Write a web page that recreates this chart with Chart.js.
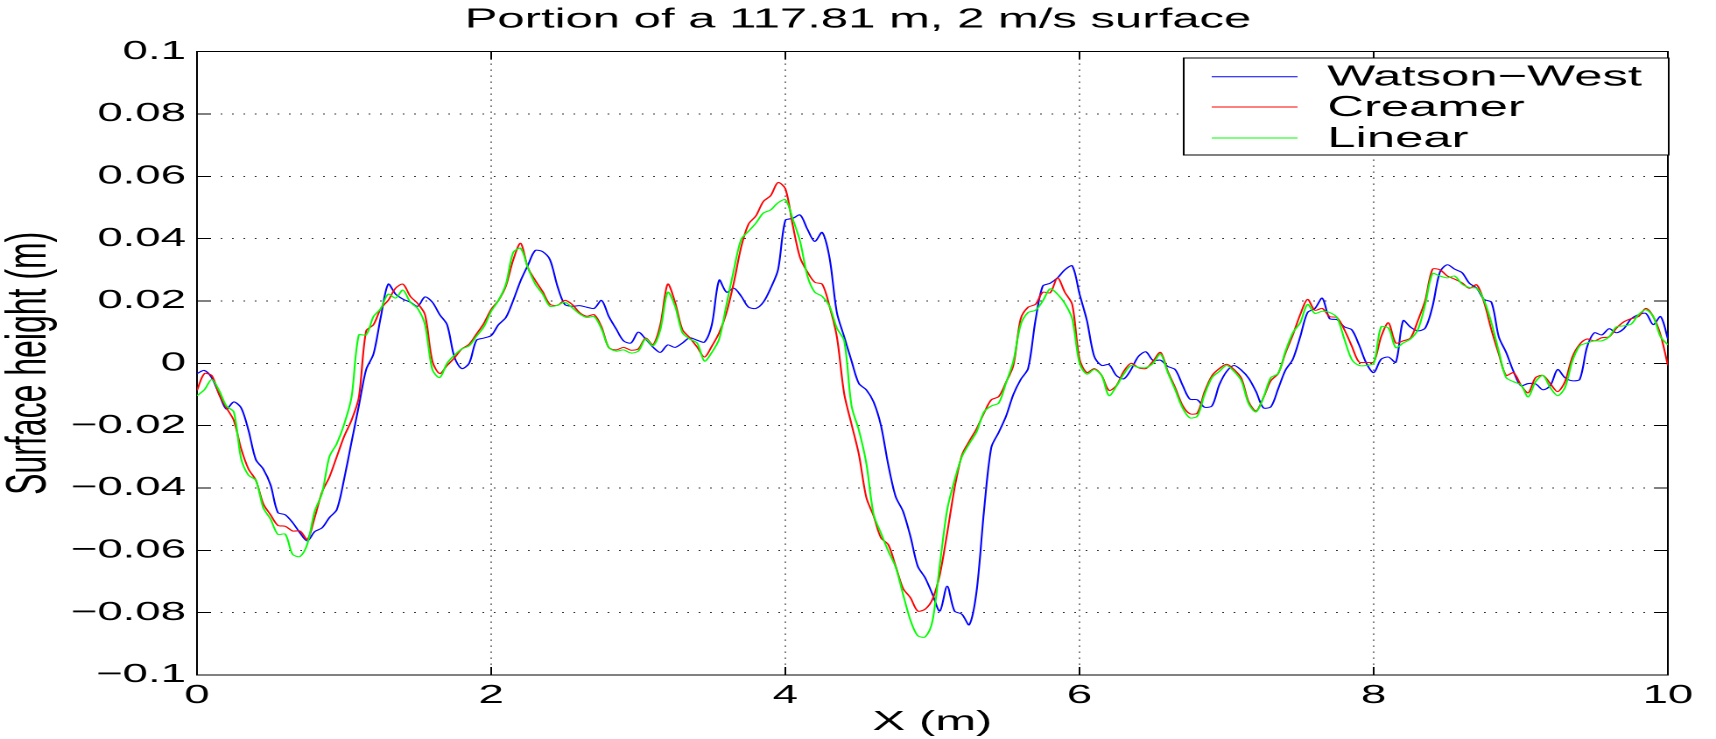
<!DOCTYPE html>
<html>
<head>
<meta charset="utf-8">
<title>Portion of a 117.81 m, 2 m/s surface</title>
<script src="https://cdn.jsdelivr.net/npm/chart.js@4.4.1/dist/chart.umd.min.js"></script>
<style>
  html, body { margin: 0; padding: 0; background: #fff; overflow: hidden; }
  /* the original figure is stretched sideways, so the canvas is too */
  canvas#surf { display: block; width: 1716px !important; height: 739px !important; }
</style>
</head>
<body>
<canvas id="surf" width="980" height="739" style="width:1716px;height:739px"></canvas>
<script>
// sample positions along X (m), every 0.05 m
const xPos = Array.from({ length: 201 }, (_, i) => Math.round(i * 5) / 100);

const seriesNames = ['Watson−West', 'Creamer', 'Linear'];
const seriesColors = ['#0000ff', '#ff0000', '#00ff00'];

// surface heights (m)
const watsonWest = [
  -0.0033, -0.0023, -0.0046, -0.0098, -0.0147, -0.0124, -0.0143, -0.0215, -0.0309, -0.0339,
  -0.0390, -0.0479, -0.0486, -0.0511, -0.0544, -0.0570, -0.0540, -0.0528, -0.0495, -0.0470,
  -0.0372, -0.0254, -0.0137, -0.0020, 0.0030, 0.0150, 0.0254, 0.0222, 0.0206, 0.0196,
  0.0183, 0.0213, 0.0196, 0.0156, 0.0124, 0.0020, -0.0017, 0.0000, 0.0074, 0.0081,
  0.0089, 0.0124, 0.0147, 0.0202, 0.0265, 0.0315, 0.0362, 0.0358, 0.0332, 0.0248,
  0.0189, 0.0183, 0.0185, 0.0180, 0.0176, 0.0202, 0.0150, 0.0110, 0.0072, 0.0065,
  0.0100, 0.0078, 0.0052, 0.0035, 0.0059, 0.0051, 0.0065, 0.0082, 0.0074, 0.0068,
  0.0124, 0.0267, 0.0228, 0.0241, 0.0215, 0.0180, 0.0176, 0.0196, 0.0241, 0.0300,
  0.0459, 0.0465, 0.0476, 0.0430, 0.0391, 0.0420, 0.0339, 0.0163, 0.0085, 0.0007,
  -0.0065, -0.0085, -0.0124, -0.0200, -0.0327, -0.0428, -0.0475, -0.0555, -0.0651, -0.0688,
  -0.0741, -0.0795, -0.0715, -0.0795, -0.0805, -0.0839, -0.0731, -0.0475, -0.0270, -0.0222,
  -0.0170, -0.0100, -0.0052, -0.0017, 0.0137, 0.0248, 0.0257, 0.0274, 0.0300, 0.0313,
  0.0222, 0.0137, 0.0022, -0.0007, -0.0004, -0.0039, -0.0050, -0.0020, 0.0022, 0.0037,
  0.0009, 0.0010, -0.0010, -0.0020, -0.0070, -0.0115, -0.0117, -0.0141, -0.0137, -0.0069,
  -0.0026, -0.0007, -0.0022, -0.0048, -0.0091, -0.0143, -0.0140, -0.0082, -0.0022, 0.0013,
  0.0085, 0.0163, 0.0176, 0.0209, 0.0143, 0.0140, 0.0117, 0.0108, 0.0059, 0.0000,
  -0.0030, 0.0013, 0.0020, 0.0003, 0.0137, 0.0116, 0.0104, 0.0113, 0.0183, 0.0293,
  0.0316, 0.0302, 0.0291, 0.0257, 0.0241, 0.0205, 0.0196, 0.0085, 0.0035, -0.0026,
  -0.0072, -0.0065, -0.0066, -0.0085, -0.0072, -0.0020, -0.0046, -0.0056, -0.0052, 0.0052,
  0.0098, 0.0091, 0.0111, 0.0098, 0.0111, 0.0143, 0.0156, 0.0160, 0.0124, 0.0150,
  0.0078
];

const creamer = [
  -0.0087, -0.0033, -0.0039, -0.0100, -0.0143, -0.0183, -0.0274, -0.0339, -0.0375, -0.0450,
  -0.0486, -0.0520, -0.0523, -0.0538, -0.0538, -0.0565, -0.0495, -0.0413, -0.0365, -0.0300,
  -0.0235, -0.0183, -0.0110, 0.0104, 0.0124, 0.0176, 0.0202, 0.0241, 0.0254, 0.0215,
  0.0192, 0.0156, 0.0007, -0.0033, -0.0007, 0.0017, 0.0046, 0.0061, 0.0094, 0.0128,
  0.0173, 0.0202, 0.0248, 0.0332, 0.0385, 0.0306, 0.0266, 0.0230, 0.0189, 0.0186,
  0.0202, 0.0189, 0.0163, 0.0151, 0.0156, 0.0117, 0.0050, 0.0043, 0.0051, 0.0042,
  0.0046, 0.0081, 0.0059, 0.0124, 0.0254, 0.0196, 0.0108, 0.0082, 0.0052, 0.0020,
  0.0055, 0.0098, 0.0163, 0.0260, 0.0374, 0.0447, 0.0473, 0.0519, 0.0538, 0.0580,
  0.0560, 0.0443, 0.0339, 0.0293, 0.0260, 0.0254, 0.0183, 0.0085, -0.0098, -0.0196,
  -0.0293, -0.0430, -0.0490, -0.0560, -0.0582, -0.0651, -0.0722, -0.0752, -0.0795, -0.0789,
  -0.0757, -0.0678, -0.0545, -0.0401, -0.0295, -0.0250, -0.0210, -0.0160, -0.0117, -0.0107,
  -0.0061, -0.0007, 0.0143, 0.0180, 0.0189, 0.0228, 0.0226, 0.0274, 0.0228, 0.0189,
  0.0013, -0.0030, -0.0017, -0.0039, -0.0087, -0.0072, -0.0026, 0.0000, -0.0014, -0.0017,
  0.0007, 0.0035, -0.0026, -0.0078, -0.0135, -0.0162, -0.0160, -0.0091, -0.0040, -0.0017,
  -0.0003, -0.0020, -0.0048, -0.0124, -0.0153, -0.0110, -0.0056, -0.0033, 0.0033, 0.0091,
  0.0156, 0.0205, 0.0170, 0.0176, 0.0150, 0.0147, 0.0108, 0.0056, 0.0004, 0.0003,
  0.0004, 0.0085, 0.0130, 0.0065, 0.0072, 0.0081, 0.0137, 0.0202, 0.0302, 0.0300,
  0.0280, 0.0270, 0.0258, 0.0241, 0.0252, 0.0196, 0.0107, 0.0030, -0.0039, -0.0030,
  -0.0069, -0.0095, -0.0046, -0.0039, -0.0065, -0.0091, -0.0059, 0.0020, 0.0061, 0.0078,
  0.0072, 0.0082, 0.0085, 0.0113, 0.0133, 0.0143, 0.0150, 0.0176, 0.0150, 0.0091,
  -0.0007
];

const linear = [
  -0.0104, -0.0085, -0.0052, -0.0087, -0.0137, -0.0156, -0.0306, -0.0359, -0.0375, -0.0463,
  -0.0500, -0.0549, -0.0548, -0.0613, -0.0620, -0.0580, -0.0475, -0.0417, -0.0300, -0.0258,
  -0.0196, -0.0110, 0.0091, 0.0091, 0.0150, 0.0176, 0.0222, 0.0209, 0.0235, 0.0196,
  0.0176, 0.0124, -0.0020, -0.0046, 0.0000, 0.0026, 0.0046, 0.0056, 0.0087, 0.0117,
  0.0167, 0.0202, 0.0254, 0.0356, 0.0369, 0.0306, 0.0254, 0.0222, 0.0183, 0.0186,
  0.0196, 0.0179, 0.0159, 0.0147, 0.0150, 0.0110, 0.0050, 0.0039, 0.0043, 0.0033,
  0.0039, 0.0078, 0.0056, 0.0108, 0.0228, 0.0183, 0.0098, 0.0078, 0.0065, 0.0007,
  0.0035, 0.0078, 0.0189, 0.0300, 0.0398, 0.0424, 0.0450, 0.0482, 0.0492, 0.0515,
  0.0525, 0.0463, 0.0391, 0.0280, 0.0228, 0.0215, 0.0183, 0.0113, 0.0072, -0.0137,
  -0.0215, -0.0320, -0.0485, -0.0545, -0.0603, -0.0654, -0.0741, -0.0824, -0.0874, -0.0878,
  -0.0827, -0.0646, -0.0470, -0.0375, -0.0300, -0.0258, -0.0220, -0.0156, -0.0137, -0.0128,
  -0.0063, 0.0007, 0.0124, 0.0163, 0.0170, 0.0200, 0.0239, 0.0222, 0.0192, 0.0143,
  0.0000, -0.0035, -0.0020, -0.0039, -0.0104, -0.0074, -0.0035, -0.0007, -0.0013, -0.0014,
  0.0000, 0.0030, -0.0030, -0.0085, -0.0143, -0.0175, -0.0170, -0.0100, -0.0046, -0.0026,
  -0.0007, -0.0026, -0.0056, -0.0130, -0.0156, -0.0110, -0.0046, -0.0033, 0.0039, 0.0098,
  0.0130, 0.0189, 0.0160, 0.0167, 0.0163, 0.0147, 0.0078, 0.0013, -0.0007, -0.0007,
  0.0000, 0.0117, 0.0113, 0.0050, 0.0065, 0.0078, 0.0108, 0.0189, 0.0288, 0.0280,
  0.0274, 0.0280, 0.0254, 0.0243, 0.0241, 0.0202, 0.0130, 0.0039, -0.0046, -0.0059,
  -0.0069, -0.0108, -0.0059, -0.0039, -0.0078, -0.0104, -0.0078, 0.0007, 0.0056, 0.0065,
  0.0072, 0.0072, 0.0085, 0.0117, 0.0120, 0.0126, 0.0156, 0.0172, 0.0150, 0.0085,
  0.0059
];

const xTicks = [0, 2, 4, 6, 8, 10];
const xTickLabels = ['0', '2', '4', '6', '8', '10'];
const yTicks = [-0.1, -0.08, -0.06, -0.04, -0.02, 0, 0.02, 0.04, 0.06, 0.08, 0.1];
const yTickLabels = ['−0.1', '−0.08', '−0.06', '−0.04', '−0.02', '0', '0.02', '0.04', '0.06', '0.08', '0.1'];

const FONT = '"Liberation Sans", Arial, Helvetica, sans-serif';

function toPoints(ys) {
  return ys.map((y, i) => ({ x: xPos[i], y: y }));
}

// boxed legend in the top right corner, like the matlab one
const boxLegend = {
  id: 'boxLegend',
  afterDatasetsDraw(chart) {
    const ctx = chart.ctx;
    const left = 676, right = 953, top = 58, bottom = 155;
    const rows = [76.7, 107, 138];
    ctx.save();
    ctx.fillStyle = '#fff';
    ctx.fillRect(left, top, right - left, bottom - top);
    ctx.strokeStyle = '#000';
    ctx.lineWidth = 1;
    ctx.strokeRect(left, top, right - left, bottom - top);
    ctx.font = '29px ' + FONT;
    ctx.textBaseline = 'middle';
    ctx.textAlign = 'left';
    seriesNames.forEach((name, i) => {
      ctx.strokeStyle = seriesColors[i];
      ctx.lineWidth = 1;
      ctx.beginPath();
      ctx.moveTo(692, rows[i]);
      ctx.lineTo(741, rows[i]);
      ctx.stroke();
      ctx.fillStyle = '#000';
      ctx.fillText(name, 758, rows[i] + 1);
    });
    ctx.restore();
  }
};

// right and top axes only carry the inward tick marks of the box
const inwardGrid = {
  display: true,
  drawOnChartArea: false,
  drawTicks: true,
  tickLength: -8,
  tickColor: '#000',
  lineWidth: 1
};

const ctx = document.getElementById('surf');

new Chart(ctx, {
  type: 'line',
  data: {
    datasets: [
      { label: seriesNames[0], data: toPoints(watsonWest), borderColor: seriesColors[0], order: 2 },
      { label: seriesNames[1], data: toPoints(creamer), borderColor: seriesColors[1], order: 1 },
      { label: seriesNames[2], data: toPoints(linear), borderColor: seriesColors[2], order: 0 }
    ]
  },
  options: {
    responsive: false,
    devicePixelRatio: 2,
    animation: false,
    layout: { padding: 0 },
    elements: {
      line: { borderWidth: 1.05, tension: 0.3, fill: false },
      point: { radius: 0, hoverRadius: 0 }
    },
    plugins: {
      legend: { display: false },
      tooltip: { enabled: false },
      title: {
        display: true,
        text: 'Portion of a 117.81 m, 2 m/s surface',
        color: '#000',
        font: { family: FONT, size: 28, weight: 'normal' },
        padding: { top: 3, bottom: 15 }
      }
    },
    scales: {
      x: {
        type: 'linear',
        position: 'bottom',
        min: 0,
        max: 10,
        afterBuildTicks: (s) => { s.ticks = xTicks.map(v => ({ value: v })); },
        afterFit: (s) => { s.height = 64; },
        ticks: {
          color: '#000',
          font: { family: FONT, size: 26 },
          padding: 13,
          maxRotation: 0,
          autoSkip: false,
          callback: (v, i) => xTickLabels[i]
        },
        grid: {
          color: '#333',
          lineWidth: 1,
          drawTicks: true,
          tickLength: -8,
          tickColor: '#000',
          tickBorderDash: []
        },
        border: { display: true, color: '#000', width: 1, dash: [1, 5] },
        title: {
          display: true,
          text: 'X (m)',
          color: '#000',
          font: { family: FONT, size: 28 },
          padding: { top: 0, bottom: 0 }
        }
      },
      xTop: {
        type: 'linear',
        position: 'top',
        min: 0,
        max: 10,
        afterBuildTicks: (s) => { s.ticks = xTicks.map(v => ({ value: v })); },
        afterFit: (s) => { s.height = 0; },
        ticks: { display: false },
        grid: inwardGrid,
        border: { display: true, color: '#000', width: 1 }
      },
      y: {
        type: 'linear',
        position: 'left',
        min: -0.1,
        max: 0.1,
        afterBuildTicks: (s) => { s.ticks = yTicks.map(v => ({ value: v })); },
        afterFit: (s) => { s.width = 112.5; },
        ticks: {
          color: '#000',
          font: { family: FONT, size: 26 },
          padding: 14.3,
          autoSkip: false,
          callback: (v, i) => yTickLabels[i]
        },
        grid: {
          color: '#333',
          lineWidth: 1,
          drawTicks: true,
          tickLength: -8,
          tickColor: '#000',
          tickBorderDash: []
        },
        border: { display: true, color: '#000', width: 1, dash: [1, 5.5] },
        title: {
          display: true,
          text: 'Surface height (m)',
          color: '#000',
          font: { family: FONT, size: 32, lineHeight: 1 },
          padding: { top: 1, bottom: 0 }
        }
      },
      yRight: {
        type: 'linear',
        position: 'right',
        min: -0.1,
        max: 0.1,
        afterBuildTicks: (s) => { s.ticks = yTicks.map(v => ({ value: v })); },
        afterFit: (s) => { s.width = 19.4; },
        ticks: { display: false },
        grid: inwardGrid,
        border: { display: true, color: '#000', width: 1 }
      }
    }
  },
  plugins: [boxLegend]
});
</script>
</body>
</html>
